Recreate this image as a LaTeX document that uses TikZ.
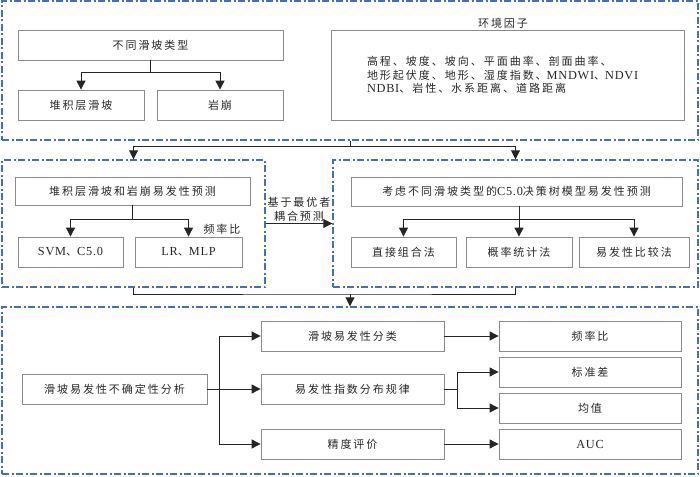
\documentclass[tikz,border=0pt]{standalone}
\usepackage{fontspec}
\setmainfont{Noto Sans CJK SC}[LetterSpace=18]
\newfontfamily\latfont{Liberation Serif}[Scale=1.12, LetterSpace=6]
\newcommand{\rmlat}[1]{{\latfont #1}}
\usetikzlibrary{arrows.meta}
\definecolor{boxgray}{RGB}{140,140,140}
\definecolor{grpblue}{RGB}{70,110,190}
\definecolor{txtgray}{RGB}{40,40,40}
\begin{document}
\begin{tikzpicture}[x=1pt,y=-1pt]
      \tikzstyle{every node} = [font=\fontsize{11}{13.3}\selectfont, text=txtgray]
      \tikzstyle{grp} = [draw=grpblue, line width=1.4pt, dash pattern=on 7pt off 2.5pt on 2pt off 2.5pt, inner sep=0]
      \tikzstyle{box} = [draw=boxgray, line width=0.8pt, minimum height=30pt, inner sep=0]
      \tikzstyle{arr} = [draw=black!85, line width=0.9pt, -{Triangle[length=9pt,width=9pt]}]
      \tikzstyle{ln} = [draw=black!85, line width=0.9pt]
      \useasboundingbox (0,0) rectangle (700,476);

      % dashed groups
      \node[grp, minimum width=696pt, minimum height=139pt](g1) at (350,70.5){};
      \node[grp, minimum width=263pt, minimum height=127pt](g2) at (133.5,223.5){};
      \node[grp, minimum width=365pt, minimum height=127pt](g3) at (515.5,223.5){};
      \node[grp, minimum width=696pt, minimum height=167pt](g4) at (350,390.5){};

      % landslide types and factors
      \node[box, minimum width=265pt](types) at (150.5,45){不同滑坡类型};
      \node[box, minimum width=126pt](dep) at (81,105){堆积层滑坡};
      \node[box, minimum width=126pt](rock) at (220,105){岩崩};
      \node(envlbl) at (503,23){环境因子};
      \node[box, minimum width=353pt, minimum height=90pt, align=left, text width=281pt, inner xsep=36pt](env) at (507.5,75)
            {高程、坡度、坡向、平面曲率、剖面曲率、\\地形起伏度、地形、湿度指数、\rmlat{MNDWI}、\rmlat{NDVI}\\\rmlat{NDBI}、岩性、水系距离、道路距离};

      \draw[arr] (types.south) -- ++(0,12) -| (dep.north);
      \draw[arr] (types.south) -- ++(0,12) -| (rock.north);

      % first prediction
      \node[box, minimum width=235pt, minimum height=28pt](pred2) at (132.5,191){堆积层滑坡和岩崩易发性预测};
      \node[box, minimum width=105pt](svm) at (70.5,252){\rmlat{SVM}、\rmlat{C5.0}};
      \node[box, minimum width=107pt](lr) at (188.5,252){\rmlat{LR}、\rmlat{MLP}};
      \node(frlbl) at (222,229){频率比};

      \draw[arr] (pred2.south) -- ++(0,14) -| (svm.north);
      \draw[arr] (pred2.south) -- ++(0,14) -| (lr.north);

      % C5.0 prediction
      \node[box, minimum width=331pt, minimum height=29pt](pred3) at (516.5,191.5){考虑不同滑坡类型的\rmlat{C5.0}决策树模型易发性预测};
      \node[box, minimum width=105pt](direct) at (403.5,252){直接组合法};
      \node[box, minimum width=106pt](prob) at (519,252){概率统计法};
      \node[box, minimum width=110pt](ratio) at (634,252){易发性比较法};

      \draw[arr] (pred3.south -| prob.north) -- ++(0,13) -| (direct.north);
      \draw[arr] (pred3.south -| prob.north) -- (prob.north);
      \draw[arr] (pred3.south -| prob.north) -- ++(0,13) -| (ratio.north);

      % between groups
      \coordinate(j1) at (350,146);
      \coordinate(j2) at (350,294);
      \draw[ln] (g1.south) -- (j1);
      \draw[arr] (j1) -| (g2.north);
      \draw[arr] (j1) -| (g3.north);
      \draw[arr] (g2.east) -- node[above, align=center, font=\fontsize{11}{14}\selectfont, inner sep=2pt](){基于最优者\\耦合预测} (g3.west);
      \draw[ln] (g2.south) |- (j2) -| (g3.south);
      \draw[arr] (j2) -- (g4.north);

      % uncertainty analysis
      \node[box, minimum width=185pt](unc) at (114.5,389){滑坡易发性不确定性分析};
      \node[box, minimum width=183pt](cls) at (352.5,336){滑坡易发性分类};
      \node[box, minimum width=183pt](dist) at (352.5,389){易发性指数分布规律};
      \node[box, minimum width=183pt](acc) at (352.5,444){精度评价};
      \node[box, minimum width=182pt](fr) at (590,336){频率比};
      \node[box, minimum width=182pt](sd) at (590,372){标准差};
      \node[box, minimum width=182pt](mean) at (590,408){均值};
      \node[box, minimum width=182pt](auc) at (590,444){\rmlat{AUC}};

      \coordinate(b1) at (219,389);
      \coordinate(b2) at (457,389);
      \draw[ln] (unc.east) -- (b1);
      \draw[arr] (b1) |- (cls.west);
      \draw[arr] (b1) -- (dist.west);
      \draw[arr] (b1) |- (acc.west);
      \draw[arr] (cls.east) -- (fr.west);
      \draw[ln] (dist.east) -- (b2);
      \draw[arr] (b2) |- (sd.west);
      \draw[arr] (b2) |- (mean.west);
      \draw[arr] (acc.east) -- (auc.west);
\end{tikzpicture}
\end{document}
